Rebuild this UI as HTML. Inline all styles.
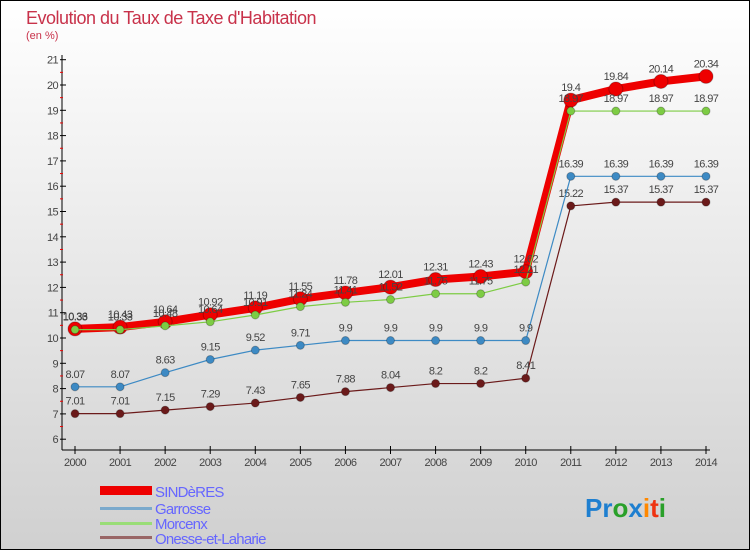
<!DOCTYPE html>
<html><head><meta charset="utf-8"><style>
body{margin:0;width:750px;height:550px;overflow:hidden}
svg{display:block;font-family:"Liberation Sans",sans-serif}
</style></head><body>
<svg id="c" width="750" height="550">
<defs><linearGradient id="bg" x1="0" y1="0" x2="0" y2="1"><stop offset="0" stop-color="#ffffff"/><stop offset="1" stop-color="#d0d0d0"/></linearGradient></defs>
<rect x="0.5" y="0.5" width="749" height="549" fill="url(#bg)" stroke="#000"/>
<text x="26" y="24" font-size="18" fill="#c8324a" letter-spacing="-0.5">Evolution du Taux de Taxe d'Habitation</text>
<text x="26" y="39" font-size="11" fill="#c8324a">(en %)</text>
<g id="axes"></g><g id="plot"></g>
<g>
<rect x="100" y="486" width="52" height="9" fill="#ee0000"/>
<text x="155" y="497" font-size="15" fill="#6666ff" letter-spacing="-0.8">SINDèRES</text>
<rect x="100" y="507" width="52" height="3" fill="#7aa9cc"/>
<text x="155" y="514" font-size="15" fill="#6666ff" letter-spacing="-0.8">Garrosse</text>
<rect x="100" y="522" width="52" height="3" fill="#99dd77"/>
<text x="155" y="529" font-size="15" fill="#6666ff" letter-spacing="-0.8">Morcenx</text>
<rect x="100" y="536" width="52" height="3" fill="#996666"/>
<text x="155" y="544" font-size="15" fill="#6666ff" letter-spacing="-0.8">Onesse-et-Laharie</text>
</g>
<g font-size="26" font-weight="bold">
<text x="585" y="517"><tspan fill="#1e7fd0">Pr</tspan><tspan fill="#2aa02a">o</tspan><tspan fill="#1e7fd0">x</tspan><tspan fill="#ff8800">i</tspan><tspan fill="#ee3311">t</tspan><tspan fill="#2aa02a">i</tspan></text>
</g>
</svg>
<script>
const years=[2000,2001,2002,2003,2004,2005,2006,2007,2008,2009,2010,2011,2012,2013,2014];
const sinderes=[10.36,10.43,10.64,10.92,11.19,11.55,11.78,12.01,12.31,12.43,12.62,19.4,19.84,20.14,20.34];
const garrosse=[8.07,8.07,8.63,9.15,9.52,9.71,9.9,9.9,9.9,9.9,9.9,16.39,16.39,16.39,16.39];
const morcenx=[10.33,10.33,10.48,10.64,10.91,11.24,11.41,11.52,11.75,11.75,12.21,18.97,18.97,18.97,18.97];
const onesse=[7.01,7.01,7.15,7.29,7.43,7.65,7.88,8.04,8.2,8.2,8.41,15.22,15.37,15.37,15.37];
const yTicks=[6,7,8,9,10,11,12,13,14,15,16,17,18,19,20,21];
const NS="http://www.w3.org/2000/svg";
const x=i=>75+i*(706-75)/14;
const y=v=>338-(v-10)*25.3;
function mk(tag,attrs,parent){const e=document.createElementNS(NS,tag);for(const k in attrs)e.setAttribute(k,attrs[k]);parent.appendChild(e);return e;}
const axes=document.getElementById('axes'),plot=document.getElementById('plot');
let ya=mk('line',{x1:62,y1:55,x2:62,y2:450,stroke:'#000'},axes);


let xa=mk('line',{x1:62,y1:450,x2:710,y2:450,stroke:'#000'},axes);


yTicks.forEach(t=>{
  mk('line',{x1:60,y1:y(t),x2:66,y2:y(t),stroke:'#000'},axes);
  if(t<21)mk('line',{x1:60,y1:y(t+0.5),x2:63,y2:y(t+0.5),stroke:'#e00'},axes);
  const l=mk('text',{x:58,y:y(t)+4,'font-size':11,fill:'#444','text-anchor':'end','letter-spacing':'-0.6'},axes);
  l.textContent=t;
  
  
});
years.forEach((yr,i)=>{
  mk('line',{x1:x(i),y1:446,x2:x(i),y2:454,stroke:'#000'},axes);
  const l=mk('text',{x:x(i),y:466,'font-size':11,fill:'#444','text-anchor':'middle','letter-spacing':'-0.6'},axes);
  l.textContent=yr;
  
  
});
function series(vals,color,lw,r,name){
  const g=mk('g',{},plot);
  
  
  const p=mk('polyline',{points:vals.map((v,i)=>x(i)+','+y(v)).join(' '),fill:'none',stroke:color,'stroke-width':lw,'stroke-linejoin':'round'},g);
  
  
  vals.forEach((v,i)=>{
    const c=mk('circle',{cx:x(i),cy:y(v),r:r,fill:color,stroke:'rgba(0,0,0,0.25)','stroke-width':1},g);
    
    
    const t=mk('text',{x:x(i),y:y(v)-9,'font-size':11,fill:'#444','text-anchor':'middle','letter-spacing':'-0.6'},g);
    t.textContent=v;
    
    
  });
}
series(onesse,'#6b1a1a',1.2,4,'onesse-et-laharie');
series(garrosse,'#3d8ac4',1.2,4,'garrosse');
series(sinderes,'#ee0000',8,7,'sinderes');
series(morcenx,'#7dcc44',1.2,4,'morcenx');
</script>
</body></html>
